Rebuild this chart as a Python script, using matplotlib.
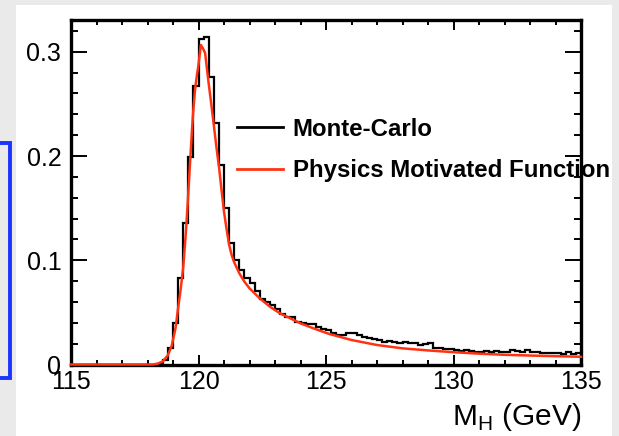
import numpy as np
import matplotlib
matplotlib.use('Agg')
import matplotlib.pyplot as plt
from matplotlib.lines import Line2D
from matplotlib.patches import Rectangle
from matplotlib.ticker import MultipleLocator

plt.rcParams['font.family'] = ['Liberation Sans', 'DejaVu Sans']
plt.rcParams['mathtext.fontset'] = 'custom'
plt.rcParams['mathtext.rm'] = 'Liberation Sans'

# Monte-Carlo histogram: 100 bins of 0.2 GeV between 115 and 135 GeV
bin_edges = np.linspace(115, 135, 101)
mc_counts = [0.0] * 17 + [
    0.0005, 0.004, 0.0155, 0.0395, 0.0827, 0.1355, 0.1994, 0.2673, 0.3124, 0.314,
    0.2762, 0.2315, 0.1915, 0.1505, 0.1163, 0.1003, 0.0907, 0.0827, 0.0779, 0.0708,
    0.0626, 0.0603, 0.0571, 0.053, 0.0482, 0.0459, 0.0459, 0.0405, 0.040, 0.0389,
    0.0389, 0.0363, 0.0338, 0.033, 0.0299, 0.0283, 0.0283, 0.0305, 0.0299, 0.0283,
    0.0261, 0.0251, 0.0242, 0.0235, 0.0219, 0.0229, 0.0219, 0.0209, 0.0219, 0.0203,
    0.0209, 0.019, 0.0197, 0.021, 0.016, 0.0155, 0.0146, 0.0146, 0.0139, 0.0133,
    0.0139, 0.0133, 0.0123, 0.0123, 0.0129, 0.0123, 0.0133, 0.0123, 0.0123, 0.0139,
    0.0133, 0.0123, 0.0139, 0.0123, 0.0123, 0.0113, 0.0113, 0.0107, 0.0113, 0.0101,
    0.0123, 0.0101, 0.0107,
]

# fitted physics-motivated line shape
fit_mass = [115.0, 118.2, 118.4, 118.6, 118.8, 118.95, 119.1, 119.2, 119.3, 119.4,
            119.5, 119.58, 119.66, 119.74, 119.8, 119.87, 119.94, 120.0, 120.05, 120.09,
            120.13, 120.17, 120.26, 120.39, 120.5, 120.6, 120.7, 120.81, 120.9, 121.0,
            121.1, 121.2, 121.3, 121.4, 121.6, 121.8, 122.0, 122.4, 122.8, 123.2,
            123.6, 124.0, 124.4, 124.8, 125.1, 126.0, 127.0, 128.0, 129.0, 130.0,
            131.0, 132.0, 133.0, 134.0, 135.0]
fit_value = [0.0, 0.0, 0.0008, 0.003, 0.009, 0.018, 0.035, 0.054, 0.072, 0.093,
             0.125, 0.156, 0.19, 0.223, 0.245, 0.265, 0.278, 0.2874, 0.298, 0.3066,
             0.305, 0.3035, 0.2987, 0.2714, 0.25, 0.2298, 0.209, 0.1883, 0.168, 0.1466,
             0.13, 0.115, 0.105, 0.098, 0.0875, 0.0795, 0.0731, 0.0635, 0.0555, 0.049,
             0.0443, 0.0395, 0.0357, 0.0321, 0.0295, 0.0235, 0.0187, 0.0155, 0.0135, 0.0118,
             0.0104, 0.0093, 0.0086, 0.008, 0.0074]

legend_labels = ['Monte-Carlo', 'Physics Motivated Function']
red = '#ff3311'

fig = plt.figure(figsize=(6.19, 4.36), dpi=100, facecolor='#eaeaea')
# white slide panel behind the plot
fig.patches.append(Rectangle((16 / 619, 0), 596 / 619, 431 / 436, transform=fig.transFigure,
                             facecolor='white', edgecolor='none', zorder=-10))
# edge of the neighbouring blue frame
fig.lines.append(Line2D([0, 10 / 619, 10 / 619, 0],
                        [1 - 143 / 436, 1 - 143 / 436, 1 - 378 / 436, 1 - 378 / 436],
                        transform=fig.transFigure, color='#1a35ff', lw=2.8,
                        solid_joinstyle='miter', zorder=-5))

ax = fig.add_axes([71 / 619, 1 - 364.5 / 436, 510 / 619, 344 / 436])
ax.set_zorder(1)
ax.set_facecolor('white')

ax.stairs(mc_counts, bin_edges, color='black', lw=1.6, zorder=2)
ax.plot(fit_mass, fit_value, color=red, lw=1.8, zorder=3, clip_on=False)

ax.set_xlim(115, 135)
ax.set_ylim(0, 0.33)

ax.xaxis.set_major_locator(MultipleLocator(5))
ax.xaxis.set_minor_locator(MultipleLocator(1))
ax.yaxis.set_major_locator(MultipleLocator(0.1))
ax.yaxis.set_minor_locator(MultipleLocator(0.02))
ax.set_yticks([0, 0.1, 0.2, 0.3])
ax.set_yticklabels(['0', '0.1', '0.2', '0.3'])

ax.tick_params(axis='both', which='both', direction='in', top=True, right=True,
               width=1.4, labelsize=18)
ax.tick_params(axis='x', which='major', length=7.5, pad=4)
ax.tick_params(axis='x', which='minor', length=3.8)
ax.tick_params(axis='y', which='major', length=11.5, pad=7)
ax.tick_params(axis='y', which='minor', length=5.3)
for s in ax.spines.values():
    s.set_linewidth(2.4)

ax.set_xlabel(r'M$_\mathregular{H}$ (GeV)', loc='right', fontsize=21.5, labelpad=5)

handles = [Line2D([], [], color='black', lw=2.0), Line2D([], [], color=red, lw=2.0)]
leg = ax.legend(handles, legend_labels, loc='upper left',
                bbox_to_anchor=(237 / 619, 1 - 117.5 / 436), bbox_transform=fig.transFigure,
                frameon=False, borderpad=0, borderaxespad=0, handlelength=1.9,
                handletextpad=0.42, labelspacing=0.79,
                prop={'weight': 'bold', 'size': 17.3})
leg.set_zorder(5)

fig.savefig('out.png', dpi=100, facecolor=fig.get_facecolor())
